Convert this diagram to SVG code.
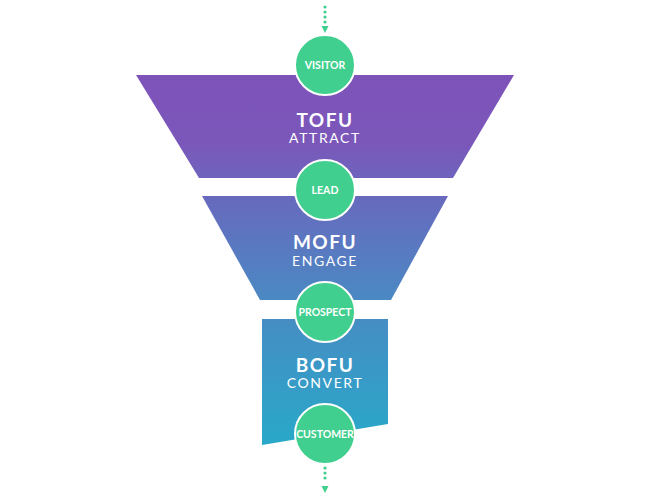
<svg xmlns="http://www.w3.org/2000/svg" width="650" height="500" viewBox="0 0 650 500">
<defs>
<linearGradient id="g" gradientUnits="userSpaceOnUse" x1="0" y1="75" x2="0" y2="445">
<stop offset="0" stop-color="#7E53B9"/>
<stop offset="0.18" stop-color="#7B57BA"/>
<stop offset="0.3" stop-color="#6B66BD"/>
<stop offset="0.6" stop-color="#4B88C3"/>
<stop offset="1" stop-color="#28A9C9"/>
</linearGradient>
<style>
.stage{fill:url(#g)}
.node circle{fill:#40CF8E;stroke:#fff;stroke-width:2}
.node text{fill:#fff;font-family:Lato,"Liberation Sans",sans-serif;font-weight:bold;font-size:10.5px;text-anchor:middle}
.lbl{fill:#fff;font-family:Lato,"Liberation Sans",sans-serif;text-anchor:middle}
.big{font-weight:bold;font-size:19px;letter-spacing:1.5px}
.sub{font-weight:normal;font-size:14px;letter-spacing:1.6px}
.dot{stroke:#40CF8E;stroke-width:3.2;stroke-linecap:round;stroke-dasharray:0 5;fill:none}
.head{fill:#40CF8E}
</style>
</defs>
<g id="tofu">
<polygon class="stage" points="136,75 514,75 453,178 199,178"/>
<text class="lbl"><tspan class="big" x="325" y="126.5">TOFU</tspan><tspan class="sub" x="325" y="142.5">ATTRACT</tspan></text>
</g>
<g id="mofu">
<polygon class="stage" points="202,196 448,196 391,300 260,300"/>
<text class="lbl"><tspan class="big" x="325" y="249">MOFU</tspan><tspan class="sub" x="325" y="266">ENGAGE</tspan></text>
</g>
<g id="bofu">
<polygon class="stage" points="262,319 388,319 388,424 262,445"/>
<text class="lbl"><tspan class="big" x="325" y="371.5">BOFU</tspan><tspan class="sub" x="325" y="387.5">CONVERT</tspan></text>
</g>
<g id="connectors">
<path class="dot" d="M325,7 L325,23"/>
<polygon class="head" points="321.5,26 328.5,26 325,33"/>
<path class="dot" d="M325,468 L325,483"/>
<polygon class="head" points="321.5,486 328.5,486 325,493"/>
</g>
<g id="visitor" class="node">
<circle cx="325" cy="65" r="30"/>
<text x="325" y="69">VISITOR</text>
</g>
<g id="lead" class="node">
<circle cx="325" cy="190" r="30"/>
<text x="325" y="194">LEAD</text>
</g>
<g id="prospect" class="node">
<circle cx="325" cy="312" r="30"/>
<text x="325" y="316">PROSPECT</text>
</g>
<g id="customer" class="node">
<circle cx="325" cy="434" r="30"/>
<text x="325" y="438">CUSTOMER</text>
</g>
</svg>
